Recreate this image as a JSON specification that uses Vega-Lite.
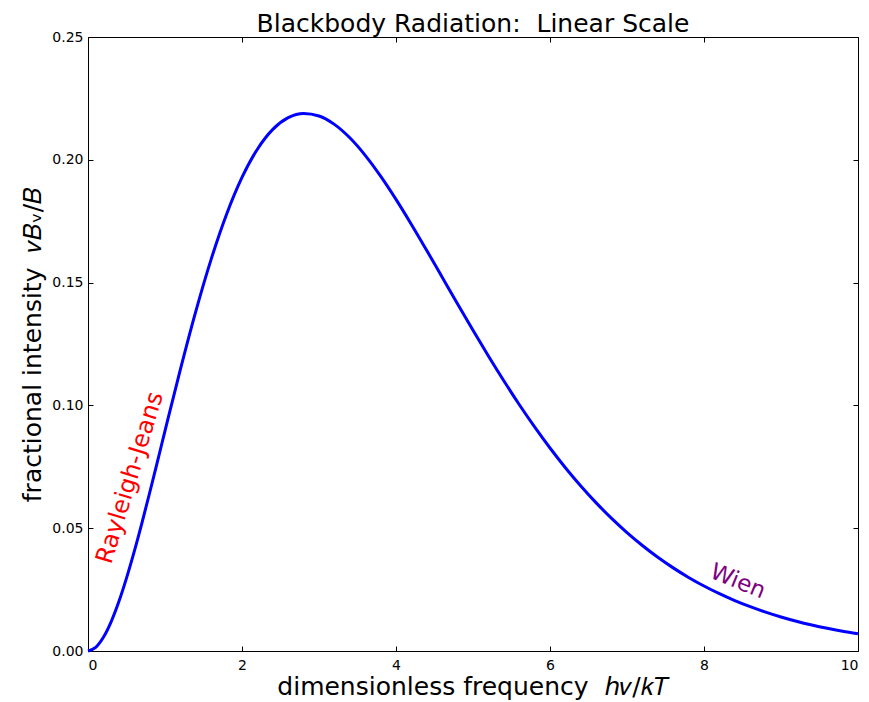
{
  "$schema": "https://vega.github.io/schema/vega-lite/v6.json",
  "width": 770,
  "height": 614,
  "autosize": "none",
  "padding": {"left": 88, "top": 37, "right": 11, "bottom": 51},
  "config": {
    "font": "DejaVu Sans",
    "view": {"stroke": "black", "strokeWidth": 1},
    "axis": {"grid": false, "domainColor": "black", "tickColor": "black", "labelColor": "black", "titleColor": "black", "labelFont": "DejaVu Sans", "titleFont": "DejaVu Sans", "labelFontSize": 14, "titleFontWeight": "normal", "titleFontSize": 25}
  },
  "title": {"text": "Blackbody Radiation:\u00a0\u00a0Linear Scale", "fontSize": 25, "fontWeight": "normal", "font": "DejaVu Sans", "color": "black", "offset": -7},
  "datasets": {
    "curve": [
      {"x": 0, "y": 0}, {"x": 0.1, "y": 0.001464}, {"x": 0.2, "y": 0.005564}, {"x": 0.3, "y": 0.011884},
      {"x": 0.4, "y": 0.020039}, {"x": 0.5, "y": 0.029672}, {"x": 0.6, "y": 0.040459}, {"x": 0.7, "y": 0.052102},
      {"x": 0.8, "y": 0.064333}, {"x": 0.9, "y": 0.076911}, {"x": 1.0, "y": 0.089619}, {"x": 1.2, "y": 0.11469},
      {"x": 1.4, "y": 0.138305}, {"x": 1.6, "y": 0.159559}, {"x": 1.8, "y": 0.177848}, {"x": 2.0, "y": 0.192817},
      {"x": 2.2, "y": 0.204322}, {"x": 2.4, "y": 0.212383}, {"x": 2.6, "y": 0.217153}, {"x": 2.8, "y": 0.218872},
      {"x": 3.0, "y": 0.217847}, {"x": 3.2, "y": 0.214423}, {"x": 3.4, "y": 0.208963}, {"x": 3.6, "y": 0.201824},
      {"x": 3.8, "y": 0.193349}, {"x": 4.0, "y": 0.183875}, {"x": 4.2, "y": 0.173686}, {"x": 4.4, "y": 0.16305},
      {"x": 4.6, "y": 0.152195}, {"x": 4.8, "y": 0.141316}, {"x": 5.0, "y": 0.130577}, {"x": 5.2, "y": 0.12011},
      {"x": 5.4, "y": 0.110015}, {"x": 5.6, "y": 0.100373}, {"x": 5.8, "y": 0.09124}, {"x": 6.0, "y": 0.082653},
      {"x": 6.2, "y": 0.074632}, {"x": 6.4, "y": 0.067184}, {"x": 6.6, "y": 0.060307}, {"x": 6.8, "y": 0.053988},
      {"x": 7.0, "y": 0.048208}, {"x": 7.2, "y": 0.042944}, {"x": 7.4, "y": 0.038143}, {"x": 7.6, "y": 0.033847},
      {"x": 7.8, "y": 0.029955}, {"x": 8.0, "y": 0.026458}, {"x": 8.2, "y": 0.023326}, {"x": 8.4, "y": 0.020528},
      {"x": 8.6, "y": 0.018036}, {"x": 8.8, "y": 0.01582}, {"x": 9.0, "y": 0.013856}, {"x": 9.2, "y": 0.012117},
      {"x": 9.4, "y": 0.010582}, {"x": 9.6, "y": 0.009228}, {"x": 9.8, "y": 0.008037}, {"x": 10.0, "y": 0.006991}
    ],
    "labels": [
      {"x": 0.55, "y": 0.0705, "label": "Rayleigh-Jeans", "kind": "rj"},
      {"x": 8.44, "y": 0.0283, "label": "Wien", "kind": "wien"}
    ]
  },
  "layer": [
    {
      "data": {"name": "curve"},
      "mark": {"type": "line", "color": "#0000ff", "strokeWidth": 3, "interpolate": "monotone"},
      "encoding": {
        "x": {"field": "x", "type": "quantitative", "scale": {"domain": [0, 10], "nice": false, "zero": false},
              "axis": {"orient": "bottom", "values": [0, 2, 4, 6, 8, 10], "format": "d", "title": "dimensionless frequency\u00a0\u00a0ℎ𝜈/𝑘𝑇", "tickSize": -5, "labelPadding": 12, "titlePadding": 2, "domain": false}},
        "y": {"field": "y", "type": "quantitative", "scale": {"domain": [0, 0.25], "nice": false},
              "axis": {"orient": "left", "values": [0, 0.05, 0.1, 0.15, 0.2, 0.25], "format": ".2f", "title": "fractional intensity\u00a0\u00a0𝜈𝐵ᵥ/𝐵", "tickSize": -5, "labelPadding": 10, "titlePadding": 6, "domain": false}}
      }
    },
    {
      "data": {"name": "curve"},
      "mark": {"type": "point", "opacity": 0},
      "encoding": {
        "x": {"field": "x", "type": "quantitative", "axis": {"orient": "top", "values": [0, 2, 4, 6, 8, 10], "labels": false, "title": null, "tickSize": -5, "domain": false}},
        "y": {"field": "y", "type": "quantitative", "axis": {"orient": "right", "values": [0, 0.05, 0.1, 0.15, 0.2, 0.25], "labels": false, "title": null, "tickSize": -5, "domain": false}}
      }
    },
    {
      "data": {"name": "labels"},
      "transform": [{"filter": "datum.kind == 'rj'"}],
      "mark": {"type": "text", "color": "red", "fontSize": 24, "angle": -73, "font": "DejaVu Sans"},
      "encoding": {
        "x": {"field": "x", "type": "quantitative", "axis": null},
        "y": {"field": "y", "type": "quantitative", "axis": null},
        "text": {"field": "label"}
      }
    },
    {
      "data": {"name": "labels"},
      "transform": [{"filter": "datum.kind == 'wien'"}],
      "mark": {"type": "text", "color": "purple", "fontSize": 23, "angle": 22, "font": "DejaVu Sans"},
      "encoding": {
        "x": {"field": "x", "type": "quantitative", "axis": null},
        "y": {"field": "y", "type": "quantitative", "axis": null},
        "text": {"field": "label"}
      }
    }
  ],
  "resolve": {"axis": {"x": "independent", "y": "independent"}}
}
